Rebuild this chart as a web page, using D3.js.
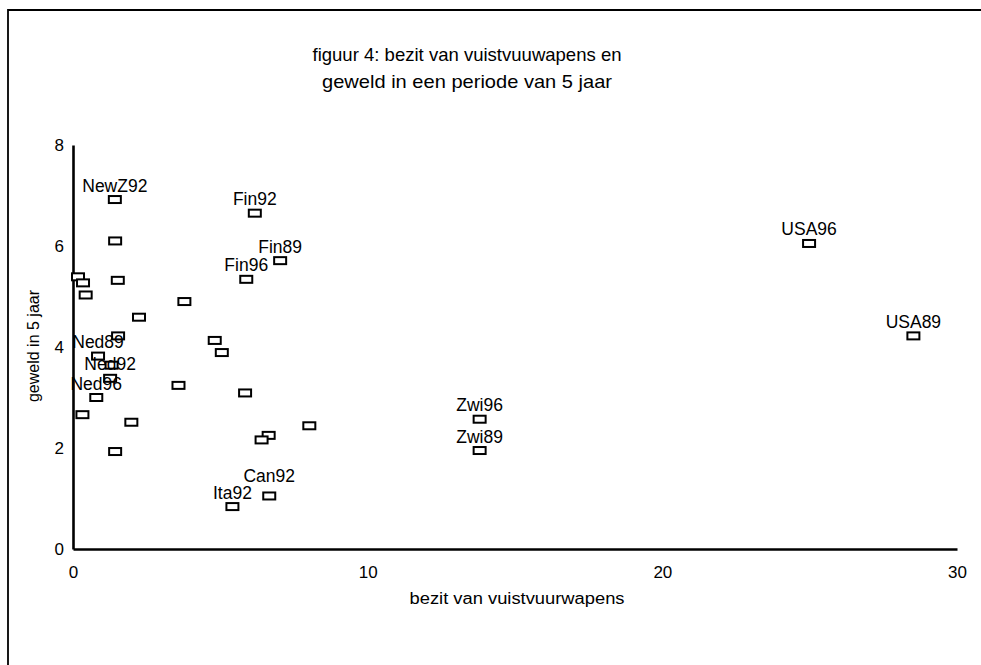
<!DOCTYPE html>
<html>
<head>
<meta charset="utf-8">
<script src="https://cdn.jsdelivr.net/npm/d3@7"></script>
<style>
  html, body { margin: 0; padding: 0; background: #fff; }
  svg { display: block; }
  text { font-family: "Liberation Sans", Arial, Helvetica, sans-serif; fill: #000; }
</style>
</head>
<body>
<svg id="chart" width="981" height="665"></svg>
<script>
// ---- data ----
const titleLines = ["figuur 4: bezit van vuistvuuwapens en", "geweld in een periode van 5 jaar"];
const xAxisTitle = "bezit van vuistvuurwapens";
const yAxisTitle = "geweld in 5 jaar";
const xTicks = [0, 10, 20, 30];
const yTicks = [0, 2, 4, 6, 8];
const pointLabels = ["NewZ92", "", "", "", "", "", "", "", "Fin92", "Fin89", "Fin96", "", "", "", "Ned89", "", "Ned92", "Ned96", "", "", "", "", "", "", "", "", "Can92", "Ita92", "USA96", "USA89", "Zwi96", "Zwi89"];
const xValues = [1.42, 1.43, 0.17, 0.34, 0.43, 1.52, 3.78, 2.24, 6.17, 7.03, 5.88, 1.53, 4.81, 5.05, 0.85, 1.31, 1.26, 0.79, 0.32, 1.98, 3.58, 5.84, 8.02, 6.64, 6.40, 1.43, 6.66, 5.41, 24.98, 28.52, 13.80, 13.80];
const yValues = [6.92, 6.10, 5.39, 5.27, 5.03, 5.32, 4.90, 4.59, 6.65, 5.71, 5.34, 4.22, 4.13, 3.89, 3.82, 3.64, 3.38, 3.00, 2.66, 2.51, 3.24, 3.09, 2.44, 2.25, 2.16, 1.93, 1.05, 0.84, 6.05, 4.22, 2.57, 1.95];

const points = xValues.map((x, i) => ({ x, y: yValues[i], label: pointLabels[i] }));

// ---- layout ----
const svg = d3.select("#chart");
const mLeft = 73, mRight = 957, mTop = 145, mBottom = 549;
const titleWidths = [309, 290];

const x = d3.scaleLinear().domain([0, 30]).range([mLeft, mRight]);
const y = d3.scaleLinear().domain([0, 8]).range([mBottom, mTop]);

// outer frame (top and left edges)
svg.append("path")
  .attr("d", `M8,665 L8,10 L981,10`)
  .attr("fill", "none").attr("stroke", "#000").attr("stroke-width", 1.8);

// title
svg.append("g").selectAll("text").data(titleLines).join("text")
  .attr("x", 467).attr("y", (d, i) => 61 + i * 27)
  .attr("text-anchor", "middle")
  .attr("textLength", (d, i) => titleWidths[i]).attr("lengthAdjust", "spacingAndGlyphs")
  .style("font-size", "19px")
  .text(d => d);

// axes
const xAxis = d3.axisBottom(x).tickValues(xTicks).tickSize(0).tickPadding(17).tickFormat(d3.format("d"));
const yAxis = d3.axisLeft(y).tickValues(yTicks).tickSize(0).tickPadding(9).tickFormat(d3.format("d"));

const gx = svg.append("g").attr("transform", `translate(0,${mBottom})`).call(xAxis);
const gy = svg.append("g").attr("transform", `translate(${mLeft},0)`).call(yAxis);

[gx, gy].forEach(g => {
  g.attr("font-family", null).attr("font-size", null);
  g.select(".domain").attr("stroke", "#000").attr("stroke-width", 2.6);
  g.selectAll("text").style("font-size", "17px");
});

// axis titles
svg.append("text")
  .attr("x", 517).attr("y", 604)
  .attr("text-anchor", "middle")
  .attr("textLength", 215).attr("lengthAdjust", "spacingAndGlyphs")
  .style("font-size", "16px")
  .text(xAxisTitle);

svg.append("text")
  .attr("transform", `translate(39,346) rotate(-90)`)
  .attr("text-anchor", "middle")
  .style("font-size", "16px")
  .text(yAxisTitle);

// markers
const bw = 12, bh = 7;
svg.append("g").selectAll("rect").data(points).join("rect")
  .attr("x", d => x(d.x) - bw / 2)
  .attr("y", d => y(d.y) - bh / 2)
  .attr("width", bw).attr("height", bh)
  .attr("fill", "#fff").attr("stroke", "#000").attr("stroke-width", 2);

// point labels
const labelSel = svg.append("g").selectAll("text").data(points.filter(d => d.label)).join("text")
  .attr("x", d => x(d.x))
  .attr("y", d => y(d.y) - 8)
  .attr("text-anchor", "middle")
  .style("font-size", "17.5px")
  .text(d => d.label);

// simple collision avoidance: nudge the upper label of an overlapping pair upwards
const nodes = labelSel.nodes();
for (let pass = 0; pass < 5; pass++) {
  let moved = false;
  for (let i = 0; i < nodes.length; i++) {
    for (let j = 0; j < nodes.length; j++) {
      if (i === j) continue;
      const a = nodes[i].getBBox(), b = nodes[j].getBBox();
      const inset = 2;
      const ax0 = a.x, ax1 = a.x + a.width, ay0 = a.y + inset, ay1 = a.y + a.height - inset;
      const bx0 = b.x, bx1 = b.x + b.width, by0 = b.y + inset, by1 = b.y + b.height - inset;
      const xOver = Math.min(ax1, bx1) - Math.max(ax0, bx0);
      const yOver = Math.min(ay1, by1) - Math.max(ay0, by0);
      if (xOver > 0 && yOver > 0 && a.y < b.y) {
        const cur = +nodes[i].getAttribute("y");
        nodes[i].setAttribute("y", cur - yOver - 0.5);
        moved = true;
      }
    }
  }
  if (!moved) break;
}
</script>
</body>
</html>
